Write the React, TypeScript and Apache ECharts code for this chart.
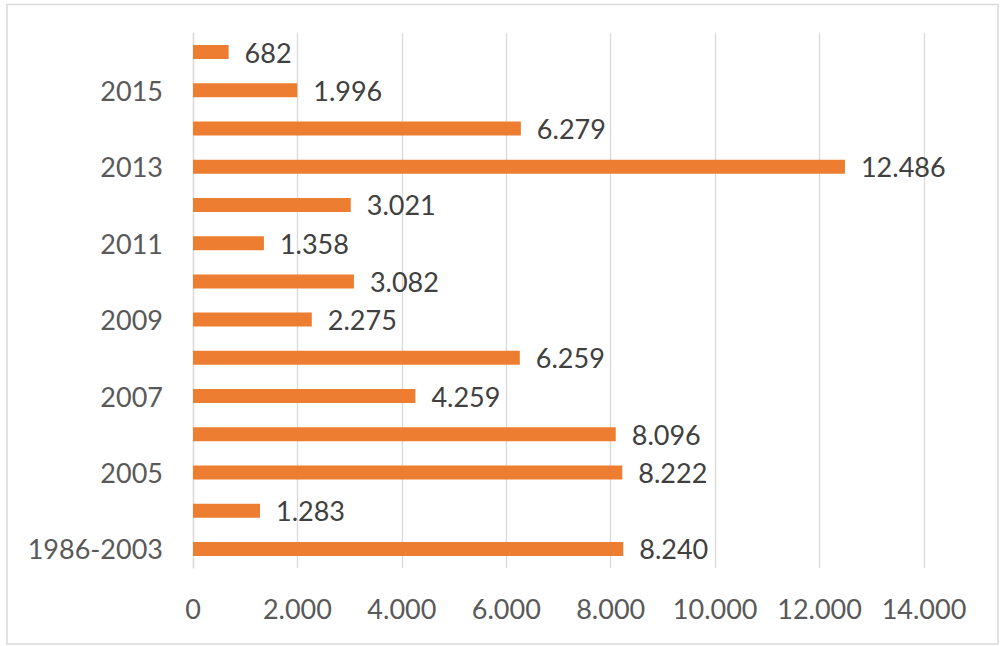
import React, { useEffect, useRef } from "react";
import * as echarts from "echarts";

const categories = ["1986-2003", "2004", "2005", "2006", "2007", "2008", "2009", "2010", "2011", "2012", "2013", "2014", "2015", "2016"];
const values = [8240, 1283, 8222, 8096, 4259, 6259, 2275, 3082, 1358, 3021, 12486, 6279, 1996, 682];

const fmt = (v: number) => String(Math.round(v)).replace(/\B(?=(\d{3})+(?!\d))/g, ".");

export default function App() {
  const ref = useRef<HTMLDivElement>(null);
  useEffect(() => {
    document.body.style.margin = "0";
    const chart = echarts.init(ref.current!, null, { renderer: "svg" });
    const font = "Lato, 'Open Sans', sans-serif";
    chart.setOption({
      animation: false,
      backgroundColor: "#ffffff",
      textStyle: { fontFamily: font },
      graphic: [
        {
          type: "rect",
          shape: { x: 7, y: 4.5, width: 991, height: 639.5 },
          style: { fill: "none", stroke: "#d9d9d9", lineWidth: 1.5 },
          silent: true,
        },
      ],
      grid: { left: 193, right: 80, top: 33, bottom: 78, containLabel: false },
      xAxis: {
        type: "value",
        min: 0,
        max: 14000,
        interval: 2000,
        axisLine: { show: false },
        axisTick: { show: false },
        splitLine: { show: true, lineStyle: { color: "#d9d9d9", width: 1.3 } },
        axisLabel: {
          color: "#595959",
          fontSize: 27,
          fontFamily: font,
          margin: 27,
          formatter: (v: number) => fmt(v),
        },
      },
      yAxis: {
        type: "category",
        data: categories,
        axisLine: { show: true, lineStyle: { color: "#d9d9d9", width: 1.3 } },
        axisTick: { show: false },
        axisLabel: {
          color: "#595959",
          fontSize: 27,
          fontFamily: font,
          margin: 30,
          interval: 1,
        },
      },
      series: [
        {
          type: "bar",
          data: values,
          barWidth: 14,
          itemStyle: { color: "#ED7D31" },
          label: {
            show: true,
            position: "right",
            distance: 16,
            color: "#404040",
            fontSize: 27,
            fontFamily: font,
            formatter: (p: any) => fmt(p.value),
          },
        },
      ],
    });
    return () => chart.dispose();
  }, []);
  return <div ref={ref} style={{ position: "absolute", left: 0, top: 0, width: 1004, height: 646 }} />;
}
